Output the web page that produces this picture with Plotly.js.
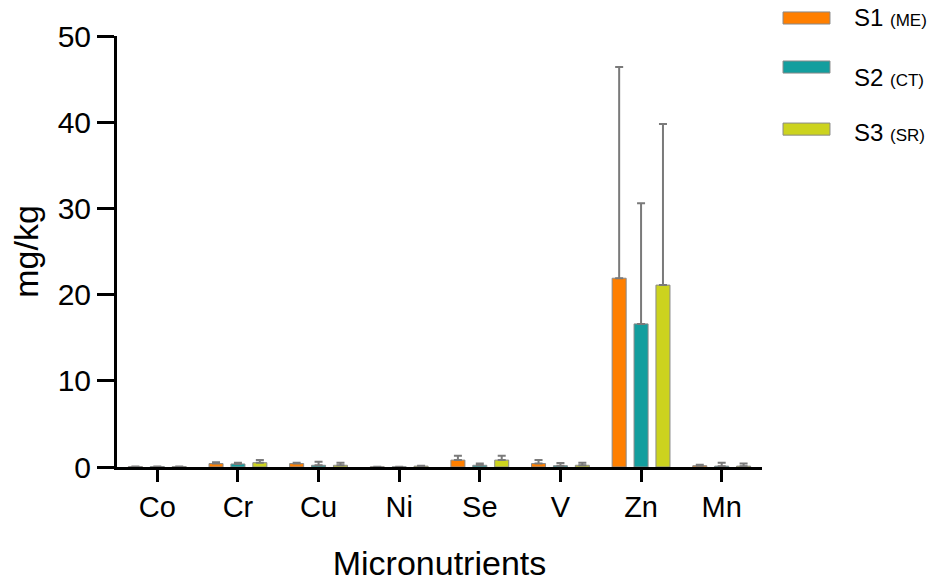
<!DOCTYPE html>
<html><head><meta charset="utf-8">
<script src="https://cdn.plot.ly/plotly-3.0.1.min.js"></script>
<style>body{margin:0;background:#fff}#c{width:940px;height:583px}</style>
</head><body><div id="c"></div>
<script>
var categories = ["Co","Cr","Cu","Ni","Se","V","Zn","Mn"];
var seriesNames = ["S1","S2","S3"];
var seriesTags = ["(ME)","(CT)","(SR)"];
var s1 = [0.05, 0.40, 0.40, 0.02, 0.80, 0.40, 21.9, 0.15];
var s1err = [0.02, 0.15, 0.10, 0.02, 0.50, 0.40, 24.5, 0.10];
var s2 = [0.05, 0.35, 0.20, 0.02, 0.20, 0.15, 16.6, 0.10];
var s2err = [0.02, 0.15, 0.40, 0.02, 0.20, 0.30, 14.0, 0.40];
var s3 = [0.05, 0.50, 0.20, 0.10, 0.80, 0.20, 21.1, 0.10];
var s3err = [0.02, 0.30, 0.30, 0.05, 0.50, 0.30, 18.7, 0.30];
var colors = ["#FF7F00","#139E9E","#CCD31E"];

var vals = [s1,s2,s3], errs=[s1err,s2err,s3err];
var traces = vals.map(function(v,i){
  return {type:"bar", x:categories, y:v, name:seriesNames[i], showlegend:false,
    marker:{color:colors[i], line:{color:"#8a8a8a", width:1}},
    error_y:{type:"data", array:errs[i], arrayminus:v.map(function(){return 0;}), symmetric:false,
      color:"#7a7a7a", thickness:2, width:4}};
});

var boxY = [1.0418, 0.928, 0.784];
var textY = [1.044, 0.9026, 0.777];
var shapes = [], annotations = [];
for (var i=0;i<3;i++){
  shapes.push({type:"rect", xref:"paper", yref:"paper", x0:1.0326, x1:1.1054, y0:boxY[i]-0.014, y1:boxY[i]+0.014,
    fillcolor:colors[i], line:{color:"#8a8a8a", width:1}});
  annotations.push({xref:"paper", yref:"paper", x:1.1395, y:textY[i], xanchor:"left", yanchor:"middle", showarrow:false,
    text: seriesNames[i] + " <span style='font-size:17px'>" + seriesTags[i] + "</span>",
    font:{family:"Liberation Sans, Arial", size:24, color:"#000"}});
}

var layout = {
  width:940, height:583,
  margin:{l:117, r:178, t:36, b:116},
  paper_bgcolor:"#fff", plot_bgcolor:"#fff",
  barmode:"group", bargap:0.185, bargroupgap:0.36,
  font:{family:"Liberation Sans, Arial", color:"#000"},
  xaxis:{range:[-0.5,7.5], showline:true, linecolor:"#000", linewidth:3,
    ticks:"outside", ticklen:12, tickwidth:3, tickcolor:"#000",
    tickfont:{size:29}, showgrid:false, zeroline:false,
    title:{text:"Micronutrients", font:{size:34}, standoff:30}},
  yaxis:{range:[0,50], dtick:10, showline:true, linecolor:"#000", linewidth:3,
    ticks:"outside", ticklen:17, tickwidth:3, tickcolor:"#000",
    tickfont:{size:30}, showgrid:false, zeroline:false,
    title:{text:"mg/kg", font:{size:34}, standoff:9}},
  shapes:shapes, annotations:annotations
};
Plotly.newPlot("c", traces, layout, {displayModeBar:false, staticPlot:true});
</script></body></html>
